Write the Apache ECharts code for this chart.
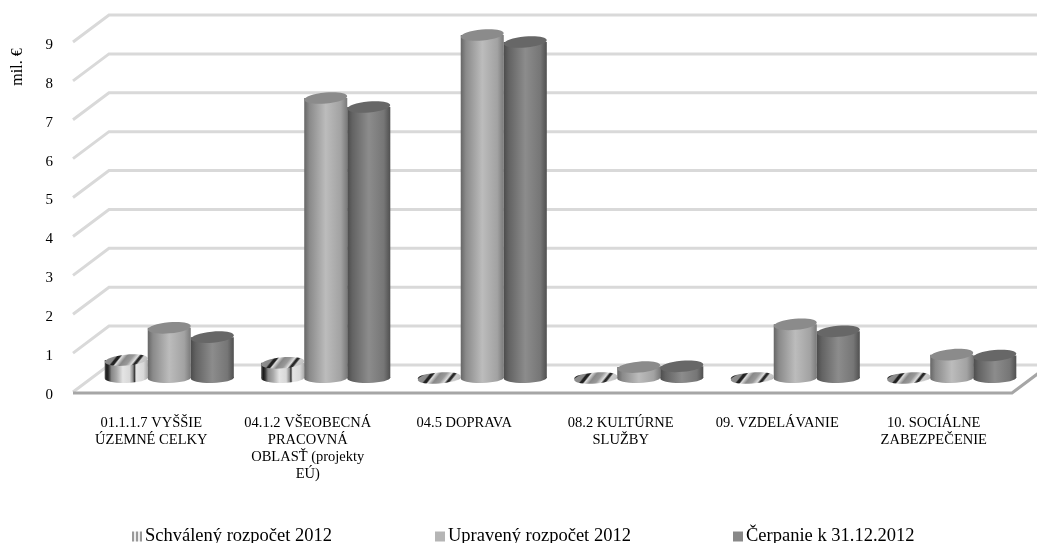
<!DOCTYPE html>
<html>
<head>
<meta charset="utf-8">
<script src="https://cdn.jsdelivr.net/npm/echarts@6/dist/echarts.min.js"></script>
<style>
html, body { margin: 0; padding: 0; background: #fff; }
#main { width: 1037px; height: 543px; }
</style>
</head>
<body>
<div id="main"></div>
<script>
var categories = [
    '01.1.1.7 VYŠŠIE\nÚZEMNÉ CELKY',
    '04.1.2 VŠEOBECNÁ\nPRACOVNÁ\nOBLASŤ (projekty\nEÚ)',
    '04.5 DOPRAVA',
    '08.2 KULTÚRNE\nSLUŽBY',
    '09. VZDELÁVANIE',
    '10. SOCIÁLNE\nZABEZPEČENIE'
];
var yTicks = [0, 1, 2, 3, 4, 5, 6, 7, 8, 9];
var schvaleny = [0.46, 0.39, 0, 0, 0, 0];
var upraveny = [1.29, 7.2, 8.82, 0.28, 1.38, 0.6];
var cerpanie = [1.05, 6.97, 8.64, 0.3, 1.2, 0.58];

var FONT = '"Liberation Serif", "Times New Roman", serif';
// hlbka 3D podlahy v pixeloch
var DEPTH_X = 36, DEPTH_Y = 27;

function hGrad(stops) {
    return new echarts.graphic.LinearGradient(0, 0, 1, 0, stops);
}

var stripeStops = [
    { offset: 0, color: '#555' }, { offset: 0.05, color: '#1a1a1a' }, { offset: 0.09, color: '#333' },
    { offset: 0.16, color: '#888' }, { offset: 0.28, color: '#aaa' }, { offset: 0.42, color: '#e4e4e4' },
    { offset: 0.58, color: '#d8d8d8' }, { offset: 0.66, color: '#888' }, { offset: 0.69, color: '#333' },
    { offset: 0.73, color: '#e4e4e4' }, { offset: 0.9, color: '#d8d8d8' }, { offset: 1, color: '#aaa' }
];
// sikme pruhy na vrchnej podstave
var stripeTopStops = [
    { offset: 0, color: '#999' }, { offset: 0.28, color: '#888' }, { offset: 0.31, color: '#222' },
    { offset: 0.35, color: '#222' }, { offset: 0.38, color: '#ddd' }, { offset: 0.46, color: '#888' },
    { offset: 0.56, color: '#999' }, { offset: 0.64, color: '#ddd' }, { offset: 0.68, color: '#222' },
    { offset: 0.71, color: '#333' }, { offset: 0.74, color: '#ccc' }, { offset: 1, color: '#aaa' }
];

var styles = [
    {
        side: hGrad(stripeStops),
        top: new echarts.graphic.LinearGradient(0.1, -1, 0.9, 2, stripeTopStops)
    },
    {
        side: hGrad([
            { offset: 0, color: '#666' }, { offset: 0.12, color: '#8a8a8a' },
            { offset: 0.5, color: '#bcbcbc' }, { offset: 0.85, color: '#a2a2a2' }, { offset: 1, color: '#7a7a7a' }
        ]),
        top: '#8b8b8b'
    },
    {
        side: hGrad([
            { offset: 0, color: '#4c4c4c' }, { offset: 0.12, color: '#636363' },
            { offset: 0.5, color: '#8c8c8c' }, { offset: 0.85, color: '#767676' }, { offset: 1, color: '#505050' }
        ]),
        top: '#676767'
    }
];

function cylinder(k) {
    return function (params, api) {
        var i = api.value(0);
        var base = api.coord([i, 0]);
        var top = api.coord([i, api.value(1)]);
        var band = api.size([1, 0])[0];
        var w = band * 0.275;
        var rx = w / 2, ry = 5.5;
        var cx = base[0] + DEPTH_X / 2 + (k - 1) * w;
        var by = base[1] - DEPTH_Y / 2 - 0.5;
        var ty = top[1] - DEPTH_Y / 2 - 0.5;
        var st = styles[k];
        return {
            type: 'group',
            children: [
                { type: 'ellipse', x: cx, y: by, rotation: 0.02, shape: { cx: 0, cy: 0, rx: rx, ry: 5 }, style: { fill: st.side } },
                { type: 'rect', shape: { x: cx - rx, y: ty, width: w, height: by - ty }, style: { fill: st.side } },
                { type: 'ellipse', x: cx, y: ty, rotation: 0.09, shape: { cx: 0, cy: 0, rx: rx, ry: ry }, style: { fill: st.top } }
            ]
        };
    };
}

function wall(params, api) {
    var cs = params.coordSys;
    var y = api.coord([0, api.value(1)])[1];
    var line = {
        type: 'polyline',
        shape: { points: [[cs.x, y], [cs.x + DEPTH_X, y - DEPTH_Y], [cs.x + cs.width + DEPTH_X, y - DEPTH_Y]] },
        style: { fill: null, stroke: '#d9d9d9', lineWidth: 3 }
    };
    if (api.value(1) !== 0) return line;
    return {
        type: 'group',
        children: [line, {
            type: 'polyline',
            shape: { points: [[cs.x, y + 1], [cs.x + cs.width, y + 1], [cs.x + cs.width + DEPTH_X, y + 1 - DEPTH_Y]] },
            style: { fill: null, stroke: '#a6a6a6', lineWidth: 3 }
        }]
    };
}

function cylSeries(name, k, values) {
    return {
        name: name,
        type: 'custom',
        renderItem: cylinder(k),
        encode: { x: 0, y: 1 },
        itemStyle: { color: k === 0 ? hGrad([
            { offset: 0, color: '#999' }, { offset: 0.2, color: '#999' }, { offset: 0.2, color: '#eee' },
            { offset: 0.4, color: '#eee' }, { offset: 0.4, color: '#999' }, { offset: 0.6, color: '#999' },
            { offset: 0.6, color: '#eee' }, { offset: 0.8, color: '#eee' }, { offset: 0.8, color: '#999' }, { offset: 1, color: '#999' }
        ]) : (k === 1 ? '#b5b5b5' : '#888888') },
        z: 3,
        data: values.map(function (v, i) { return [i, v]; })
    };
}

function legendAt(name, left) {
    return {
        data: [name], left: left, top: 522, icon: 'rect', itemWidth: 10, itemHeight: 10, itemGap: 3,
        selectedMode: false,
        textStyle: { fontFamily: FONT, fontSize: 18.5, color: '#000', padding: [0, 0, 0, -2] }
    };
}

var myChart = echarts.init(document.getElementById('main'));
myChart.setOption({
    animation: false,
    backgroundColor: '#fff',
    grid: { left: 73, right: 25, top: 42, bottom: 151 },
    legend: [
        legendAt('Schválený rozpočet 2012', 127),
        legendAt('Upravený rozpočet 2012', 430),
        legendAt('Čerpanie k 31.12.2012', 728)
    ],
    xAxis: {
        type: 'category',
        data: categories,
        axisLine: { show: false },
        axisTick: { show: false },
        axisLabel: { interval: 0, margin: 23, fontFamily: FONT, fontSize: 14.5, lineHeight: 17, color: '#000' }
    },
    yAxis: {
        type: 'value',
        min: 0,
        max: 9,
        interval: 1,
        axisLine: { show: false },
        axisTick: { show: false },
        splitLine: { show: false },
        axisLabel: {
            margin: 20,
            formatter: '{n|{value}}',
            rich: { n: { fontFamily: FONT, fontSize: 15, color: '#000', padding: [6, 0, 0, 0] } }
        }
    },
    graphic: [{
        type: 'text', x: 18, y: 67, rotation: Math.PI / 2, silent: true,
        style: { text: 'mil. €', fontFamily: FONT, fontSize: 16, fill: '#000', align: 'center', verticalAlign: 'middle' }
    }],
    series: [
        {
            type: 'custom',
            renderItem: wall,
            encode: { x: 0, y: 1 },
            z: 1,
            silent: true,
            data: yTicks.map(function (v) { return [0, v]; })
        },
        cylSeries('Schválený rozpočet 2012', 0, schvaleny),
        cylSeries('Upravený rozpočet 2012', 1, upraveny),
        cylSeries('Čerpanie k 31.12.2012', 2, cerpanie)
    ]
});
</script>
</body>
</html>
